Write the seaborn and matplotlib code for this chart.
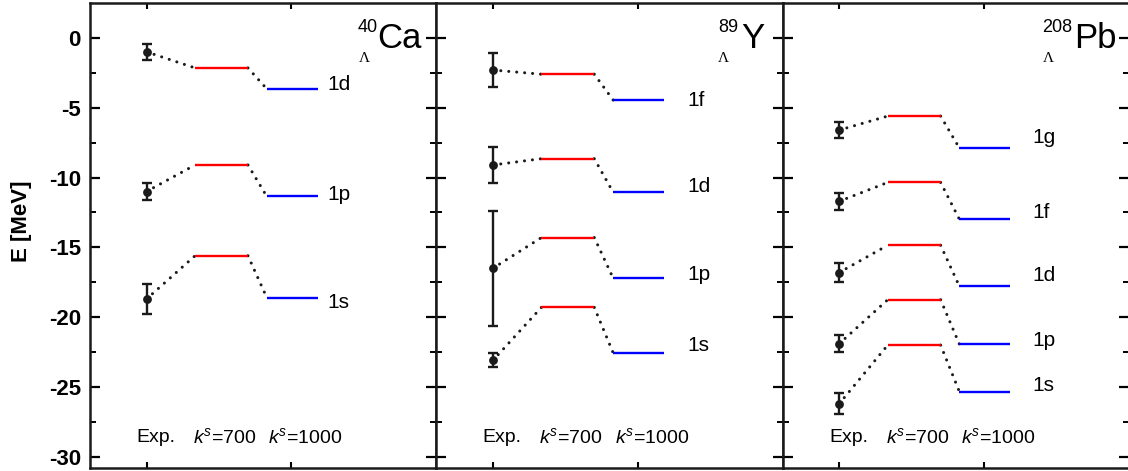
import numpy as np
import pandas as pd
import matplotlib.pyplot as plt
import seaborn as sns

# hypernuclear single-particle levels (MeV)
ca_states = ['1d', '1p', '1s']
ca_exp = [-1.0, -11.0, -18.7]
ca_exp_err = [0.55, 0.6, 1.1]
ca_k700 = [-2.15, -9.1, -15.6]
ca_k1000 = [-3.65, -11.35, -18.6]

y_states = ['1f', '1d', '1p', '1s']
y_exp = [-2.3, -9.1, -16.5, -23.1]
y_exp_err = [1.2, 1.3, 4.1, 0.5]
y_k700 = [-2.6, -8.65, -14.3, -19.3]
y_k1000 = [-4.45, -11.05, -17.2, -22.55]

pb_states = ['1g', '1f', '1d', '1p', '1s']
pb_exp = [-6.6, -11.7, -16.8, -21.9, -26.2]
pb_exp_err = [0.6, 0.6, 0.7, 0.6, 0.75]
pb_k700 = [-5.6, -10.35, -14.85, -18.75, -22.0]
pb_k1000 = [-7.9, -13.0, -17.8, -21.95, -25.35]

nuclei = ['Ca', 'Y', 'Pb']
mass_numbers = ['40', '89', '208']

sns.set_theme(style='ticks')
plt.rcParams['font.family'] = ['Liberation Sans', 'DejaVu Sans']
plt.rcParams['mathtext.fontset'] = 'custom'
plt.rcParams['mathtext.rm'] = 'Liberation Sans'
plt.rcParams['mathtext.it'] = 'Liberation Sans:italic'
plt.rcParams['axes.unicode_minus'] = False
for key in ['text.color', 'axes.labelcolor', 'xtick.color', 'ytick.color', 'axes.edgecolor']:
    plt.rcParams[key] = 'black'

panels = [
    dict(states=ca_states, exp=ca_exp, err=ca_exp_err, k700=ca_k700, k1000=ca_k1000,
         lab_x=2.25, lab_dy=[0.3, 0.12, -0.36],
         el_x=0.830, sup_x=0.774, lam_x=0.777),
    dict(states=y_states, exp=y_exp, err=y_exp_err, k700=y_k700, k1000=y_k1000,
         lab_x=2.34, lab_dy=[0.0, 0.4, 0.24, 0.55],
         el_x=0.880, sup_x=0.814, lam_x=0.814),
    dict(states=pb_states, exp=pb_exp, err=pb_exp_err, k700=pb_k700, k1000=pb_k1000,
         lab_x=2.33, lab_dy=[0.8, 0.5, 0.8, 0.3, 0.45],
         el_x=0.842, sup_x=0.749, lam_x=0.752),
]

fig = plt.figure(figsize=(11.28, 4.71), dpi=100)
axes = fig.subplots(1, 3, sharey=True)
fig.subplots_adjust(left=90/1128, right=1129/1128, top=1-3/471, bottom=1-468/471, wspace=0)

x_exp = 1.0
red_x = (1.335, 1.70)
blue_x = (1.83, 2.18)
dots = (0, (0.01, 2.6))

for i, (ax, p) in enumerate(zip(axes, panels)):
    df = pd.DataFrame({'state': p['states'], 'exp': p['exp'], 'err': p['err'],
                       'k700': p['k700'], 'k1000': p['k1000']})
    df['x'] = x_exp

    # connectors
    for _, r in df.iterrows():
        ax.plot([x_exp, red_x[0]], [r['exp'], r['k700']], color='k', lw=2.2,
                ls=dots, dash_capstyle='round', zorder=2)
        ax.plot([red_x[1], blue_x[0]], [r['k700'], r['k1000']], color='k', lw=2.2,
                ls=dots, dash_capstyle='round', zorder=2)

    ax.hlines(df['k700'], red_x[0], red_x[1], color='#ff0000', lw=1.7, zorder=3)
    ax.hlines(df['k1000'], blue_x[0], blue_x[1], color='#0000ff', lw=1.7, zorder=3)

    ax.errorbar(df['x'], df['exp'], yerr=df['err'], fmt='none', ecolor='k',
                elinewidth=1.7, capsize=3.5, capthick=1.7, zorder=4)
    sns.scatterplot(data=df, x='x', y='exp', color='k', s=40, edgecolor='k',
                    linewidth=0, ax=ax, zorder=5, legend=False)

    for s, e, dy in zip(df['state'], df['k1000'], p['lab_dy']):
        ax.text(p['lab_x'], e + dy, s, fontsize=15, va='center', ha='left')

    # bottom column captions
    ax.text(0.93, -28.6, 'Exp.', fontsize=14, va='center', ha='left')
    ax.text(1.32, -28.6, r'$k^{s}$=700', fontsize=14, va='center', ha='left')
    ax.text(1.84, -28.6, r'$k^{s}$=1000', fontsize=14, va='center', ha='left')

    # nucleus label
    ax.text(p['el_x'], 0.903, nuclei[i], fontsize=25, va='baseline', ha='left',
            transform=ax.transAxes)
    ax.text(p['sup_x'], 0.938, mass_numbers[i], fontsize=13, va='baseline', ha='left',
            transform=ax.transAxes)
    ax.text(p['lam_x'], 0.873, '\u039b', fontsize=11, va='baseline', ha='left',
            family='Liberation Serif', transform=ax.transAxes)

    ax.set_xlim(0.61, 3.0)
    ax.set_ylim(-30.8, 2.5)
    ax.set_xticks([1, 2])
    ax.set_yticks(np.arange(0, -31, -5))
    ax.set_yticks(np.arange(0, -31, -2.5), minor=True)
    ax.set_xlabel('')
    ax.set_ylabel('')
    ax.tick_params(axis='x', which='both', direction='in', top=True, bottom=True,
                   length=4, width=1.5, labelbottom=False)
    ax.tick_params(axis='y', which='major', direction='in', left=True, right=True,
                   length=7, width=1.6, pad=6.5, labelsize=16)
    ax.tick_params(axis='y', which='minor', direction='in', left=True, right=True,
                   length=4, width=1.4)
    for sp in ax.spines.values():
        sp.set_linewidth(1.8)
        sp.set_color('k')
    if i > 0:
        ax.tick_params(axis='y', labelleft=False)

for lab in axes[0].get_yticklabels():
    lab.set_fontweight('bold')
axes[0].set_ylabel('E [MeV]', fontsize=16, fontweight='bold')
axes[0].yaxis.set_label_coords(-0.168, 0.53)

fig.savefig('out.png', dpi=100)
